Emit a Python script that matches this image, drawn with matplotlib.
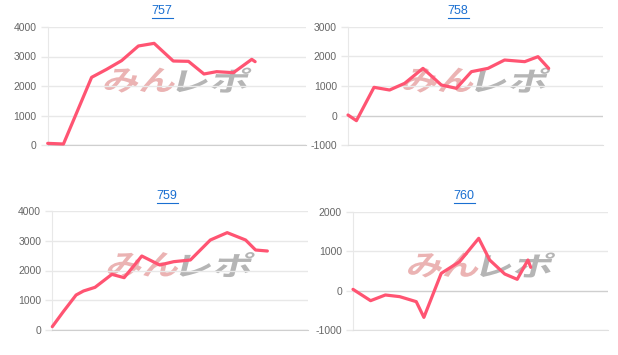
import matplotlib
matplotlib.use('Agg')
import matplotlib.pyplot as plt
from matplotlib.lines import Line2D
from matplotlib.textpath import TextPath
from matplotlib.patches import PathPatch
from matplotlib.font_manager import FontProperties
from matplotlib.transforms import Affine2D

plt.rcParams['font.family'] = ['Liberation Sans', 'Noto Sans CJK JP', 'DejaVu Sans']

# data (x = position along the day, 0-100)
titles = ['757', '758', '759', '760']

x757 = [0, 6.1, 17.0, 22.8, 28.6, 35.1, 41.2, 48.6, 54.5, 60.5, 65.4, 71.9, 79.0, 80.3]
y757 = [56, 34, 2294, 2565, 2859, 3356, 3446, 2847, 2836, 2407, 2486, 2452, 2904, 2825]

x758 = [0, 3.3, 10.2, 16.3, 22.2, 29.4, 36.6, 42.5, 48.4, 54.9, 61.4, 69.3, 74.5, 78.7]
y758 = [17, -175, 955, 864, 1090, 1598, 1034, 921, 1486, 1598, 1881, 1825, 1994, 1598]

x759 = [0, 4.3, 9.3, 12.2, 16.7, 23.3, 28.1, 35.0, 42.0, 47.5, 54.0, 57.9, 61.8, 68.4, 75.6, 79.5, 84.1]
y759 = [112, 616, 1176, 1311, 1434, 1871, 1759, 2487, 2185, 2297, 2353, 2689, 3025, 3272, 3025, 2689, 2655]

x760 = [0, 6.9, 12.7, 18.3, 24.8, 27.8, 34.6, 41.8, 49.3, 53.6, 59.5, 64.4, 68.6, 69.7]
y760 = [31, -256, -112, -154, -281, -679, 437, 733, 1325, 775, 420, 285, 775, 589]

ylims = [(0, 4000), (-1000, 3000), (0, 4000), (-1000, 2000)]

W, H = 618, 355
fig = plt.figure(figsize=(W / 100, H / 100), dpi=100)

# axes boxes in pixels: left, right, top, bottom
boxes = [(47.7, 306, 27, 145), (348, 603, 27, 145),
         (52.3, 308, 211, 330), (353, 608, 211.7, 330)]
title_pos = [(162, 11), (458, 11), (167, 196), (464, 196)]

series = [(x757, y757), (x758, y758), (x759, y759), (x760, y760)]

wm_font = FontProperties(family='Noto Sans CJK JP', weight='bold')


# slanted, stretched logo text placed in pixel coords
def stamp(text, color, x_edge, cy, side):
    tp = TextPath((0, 0), text, size=28, prop=wm_font)
    bb = tp.get_extents()
    sx = 70 / bb.width
    sy = 25 / bb.height
    x0 = bb.x1 if side == 'right' else bb.x0
    tr = (Affine2D().translate(-x0, -(bb.y0 + bb.y1) / 2)
          .scale(sx, sy).skew_deg(14, 0).translate(x_edge, cy))
    fig.add_artist(PathPatch(tp, transform=tr, facecolor=color,
                             edgecolor='none', zorder=1))


for i in range(4):
    l, r, t, b = boxes[i]
    ax = fig.add_axes([l / W, (H - b) / H, (r - l) / W, (b - t) / H])
    ax.set_zorder(2)
    ax.patch.set_alpha(0)
    lo, hi = ylims[i]
    ax.set_xlim(0, 100)
    ax.set_ylim(lo, hi)
    ticks = list(range(lo, hi + 1, 1000))
    ax.set_yticks(ticks)
    ax.set_yticklabels([str(v) for v in ticks], fontsize=7.5, color='#666666')
    ax.set_xticks([])
    for v in ticks:
        c = '#cfcfcf' if v == 0 else '#e8e8e8'
        ax.axhline(v, color=c, lw=1, zorder=0)
    ax.tick_params(axis='y', length=5, width=1, color='#e8e8e8', pad=3)
    for s in ['top', 'right']:
        ax.spines[s].set_visible(False)
    ax.spines['left'].set_color('#e8e8e8')
    ax.spines['bottom'].set_color('#cfcfcf' if lo == 0 else '#e0e0e0')

    # watermark
    cx = (l + r) / 2
    cy = H - (b - 0.55 * (b - t))
    stamp('みん', '#ebb3b3', cx - 1, cy, 'right')
    stamp('レポ', '#b5b5b5', cx + 2, cy, 'left')

    xs, ys = series[i]
    ax.plot(xs, ys, color='#ff5472', lw=2.3, solid_joinstyle='round',
            solid_capstyle='round', clip_on=False, zorder=3)

    tx, ty = title_pos[i]
    fig.text(tx / W, 1 - ty / H, titles[i], ha='center', va='center',
             fontsize=9, color='#1a6fd1')
    fig.add_artist(Line2D([(tx - 10.5) / W, (tx + 10.5) / W],
                          [1 - (ty + 6.5) / H, 1 - (ty + 6.5) / H],
                          color='#1a6fd1', lw=0.8))

fig.savefig('out.png', dpi=100)
